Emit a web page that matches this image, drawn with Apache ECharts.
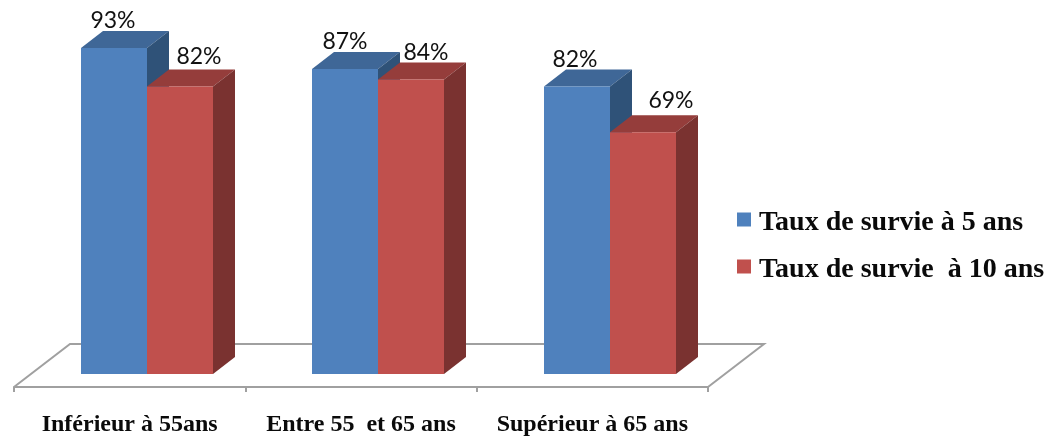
<!DOCTYPE html>
<html>
<head>
<meta charset="utf-8">
<style>html,body{margin:0;padding:0;background:#fff}#chart{width:1055px;height:436px}</style>
<script src="https://cdn.jsdelivr.net/npm/echarts@6/dist/echarts.min.js"></script>
</head>
<body>
<div id="chart"></div>
<script>
const categories = ['Inférieur à 55ans', 'Entre 55  et 65 ans', 'Supérieur à 65 ans'];
const survie5 = [93, 87, 82];
const survie10 = [82, 84, 69];
const name5 = 'Taux de survie à 5 ans';
const name10 = 'Taux de survie  à 10 ans';

// Pixel nudges of the value labels, measured from the centre of each bar's front face.
const labelNudge5 = [[-1, -27], [0, -27], [-2, -27]];
const labelNudge10 = [[19, -30], [15, -27], [28, -32]];

const BAR_DEPTH = [22, -17];
const FLOOR_DEPTH = [56, -43];
const FLOOR_DROP = 13;
const BAR_SHARE = 0.285;
const GROUP_SHIFT = 0.075;

// Draws one extruded bar: top and side faces first, then the front, then its label.
function barRenderer(slot, colors, nudges) {
  return function (params, api) {
    const cat = api.value(0), val = api.value(1);
    const band = api.size([1, 0])[0];
    const w = band * BAR_SHARE;
    const centre = api.coord([cat, 0])[0] + band * GROUP_SHIFT;
    const x0 = Math.round(centre + slot * w);
    const x1 = Math.round(centre + (slot + 1) * w);
    const yBase = api.coord([cat, 0])[1];
    const yTop = api.coord([cat, val])[1];
    const [dx, dy] = BAR_DEPTH;
    const nudge = nudges[params.dataIndex];
    return {
      type: 'group',
      children: [
        { type: 'polygon', shape: { points: [[x0, yTop], [x0 + dx, yTop + dy], [x1 + dx, yTop + dy], [x1, yTop]] }, style: { fill: colors.top } },
        { type: 'polygon', shape: { points: [[x1, yTop], [x1 + dx, yTop + dy], [x1 + dx, yBase + dy], [x1, yBase]] }, style: { fill: colors.side } },
        { type: 'rect', shape: { x: x0, y: yTop, width: x1 - x0, height: yBase - yTop }, style: { fill: colors.front } },
        { type: 'text', z2: 10, style: {
            text: val + '%', x: (x0 + x1) / 2 + nudge[0], y: yTop + nudge[1],
            align: 'center', verticalAlign: 'middle',
            fill: '#111', font: '23px Lato, "Open Sans", sans-serif' } }
      ]
    };
  };
}

// The floor's back and side edges; the front edge is the category axis line.
function floorRenderer(params, api) {
  const band = api.size([1, 0])[0];
  const y = api.coord([0, 0])[1] + FLOOR_DROP;
  const xL = api.coord([0, 0])[0] - band / 2;
  const xR = api.coord([categories.length - 1, 0])[0] + band / 2;
  const [dx, dy] = FLOOR_DEPTH;
  return {
    type: 'polyline',
    shape: { points: [[xL, y], [xL + dx, y + dy], [xR + dx, y + dy], [xR, y]] },
    style: { fill: null, stroke: '#a0a0a0', lineWidth: 2 }
  };
}

const blue = { front: '#4f81bd', top: '#3f6797', side: '#2f5278' };
const red = { front: '#c0504d', top: '#953d3b', side: '#7a3230' };

const chart = echarts.init(document.getElementById('chart'), null, { renderer: 'canvas' });
chart.setOption({
  animation: false,
  backgroundColor: '#fff',
  grid: { left: 14, width: 694, top: 23.5, height: 350.5, outerBoundsMode: 'none' },
  legend: {
    data: [name5, name10],
    orient: 'vertical',
    left: 732, top: 197,
    icon: 'rect',
    itemWidth: 14, itemHeight: 14, itemGap: 12, itemStyle: {},
    formatter: (name) => `{t|${name}}`,
    textStyle: {
      rich: {
        t: { fontFamily: '"Liberation Serif", serif', fontWeight: 'bold', fontSize: 28, color: '#0a0a0a', padding: [7, 0, 0, 3], lineHeight: 32 }
      }
    }
  },
  xAxis: {
    type: 'category',
    data: categories,
    offset: 13,
    axisLine: { onZero: false, lineStyle: { color: '#a0a0a0', width: 2 } },
    axisTick: { show: true, length: 5, lineStyle: { color: '#a0a0a0', width: 2 } },
    axisLabel: { margin: 26, fontFamily: '"Liberation Serif", serif', fontWeight: 'bold', fontSize: 24, color: '#0a0a0a', interval: 0 }
  },
  yAxis: { type: 'value', min: 0, max: 100, show: false },
  series: [
    { name: 'floor', type: 'custom', z: 1, renderItem: floorRenderer, data: [[0, 0]], silent: true,
      encode: { x: 0, y: 1 } },
    { name: name5, type: 'custom', z: 2, itemStyle: { color: blue.front },
      renderItem: barRenderer(-1, blue, labelNudge5),
      data: survie5.map((v, i) => [i, v]), encode: { x: 0, y: 1 } },
    { name: name10, type: 'custom', z: 3, itemStyle: { color: red.front },
      renderItem: barRenderer(0, red, labelNudge10),
      data: survie10.map((v, i) => [i, v]), encode: { x: 0, y: 1 } }
  ]
});
</script>
</body>
</html>
